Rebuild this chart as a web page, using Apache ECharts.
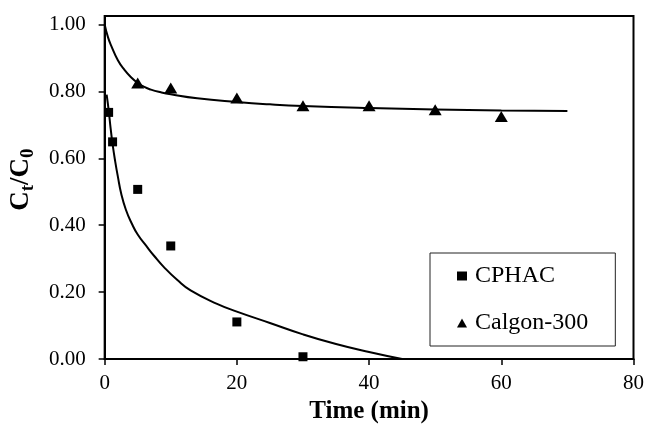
<!DOCTYPE html>
<html>
<head>
<meta charset="utf-8">
<script src="https://cdn.jsdelivr.net/npm/echarts@6/dist/echarts.min.js"></script>
<style>html,body{margin:0;padding:0;background:#fff}#c{width:647px;height:429px}</style>
</head>
<body>
<div id="c"></div>
<script>
// Measured data points
var cphacX = [0.6, 1.2, 5, 10, 20, 30];
var cphacY = [0.737, 0.649, 0.507, 0.338, 0.111, 0.007];
var calgonX = [5, 10, 20, 30, 40, 50, 60];
var calgonY = [0.825, 0.81, 0.78, 0.757, 0.757, 0.745, 0.725];
// Fitted curves
var cphacFitX = [0.3, 0.6, 0.9, 1.2, 1.6, 2, 2.5, 3.2, 4.1, 5, 6.3, 7.5, 9, 11, 13, 17, 20, 25, 30, 35, 40, 45];
var cphacFitY = [0.79, 0.745, 0.69, 0.642, 0.59, 0.545, 0.495, 0.447, 0.405, 0.372, 0.338, 0.308, 0.274, 0.236, 0.205, 0.165, 0.142, 0.108, 0.074, 0.045, 0.021, 0.0];
var calgonFitX = [0, 0.5, 1, 2, 3, 4, 5, 6, 7, 8.5, 10, 14, 20, 25, 30, 40, 50, 60, 70];
var calgonFitY = [1.0, 0.962, 0.936, 0.893, 0.864, 0.842, 0.825, 0.813, 0.805, 0.797, 0.791, 0.779, 0.768, 0.761, 0.756, 0.75, 0.746, 0.743, 0.741];
var yTicks = [0, 0.2, 0.4, 0.6, 0.8, 1.0];
var seriesNames = ['CPHAC', 'Calgon-300'];

function pairs(xs, ys) { return xs.map(function (x, i) { return [x, ys[i]]; }); }

var FONT = 'Liberation Serif';
var chart = echarts.init(document.getElementById('c'), null, { renderer: 'canvas' });
chart.setOption({
  animation: false,
  backgroundColor: '#fff',
  grid: { left: 103, right: 13, top: 16, bottom: 63, show: true, borderColor: '#000', borderWidth: 2, backgroundColor: 'transparent' },
  legend: {
    orient: 'vertical', left: 430, top: 253,
    data: [{ name: seriesNames[0], icon: 'rect' }, { name: seriesNames[1], icon: 'triangle' }],
    itemWidth: 10, itemHeight: 9, itemGap: 23,
    padding: [11, 27, 11, 27],
    borderColor: '#222', borderWidth: 1,
    textStyle: { fontFamily: FONT, fontSize: 24, color: '#000', padding: [0, 0, 0, 3] }
  },
  xAxis: {
    type: 'value', min: 0, max: 80, interval: 20,
    name: 'Time (min)', nameLocation: 'middle', nameGap: 38,
    nameTextStyle: { fontFamily: FONT, fontSize: 25, fontWeight: 'bold', color: '#000' },
    axisLine: { show: true, onZero: false, lineStyle: { color: '#000', width: 2 } },
    axisTick: { show: true, inside: false, length: 6, lineStyle: { color: '#000', width: 1.5 } },
    axisLabel: { fontFamily: FONT, fontSize: 21, color: '#000', margin: 14 },
    splitLine: { show: false }
  },
  yAxis: {
    type: 'value', min: 0, max: 1.025,
    name: '{a|C}{s|t}{a|/C}{s|0}', nameLocation: 'middle', nameGap: 66, nameRotate: 90,
    nameTextStyle: {
      padding: [0, 0, 0, 16],
      rich: {
        a: { fontFamily: FONT, fontSize: 27, fontWeight: 'bold', color: '#000' },
        s: { fontFamily: FONT, fontSize: 19, fontWeight: 'bold', color: '#000', padding: [14, 0, 0, 0] }
      }
    },
    axisLine: { show: true, onZero: false, lineStyle: { color: '#000', width: 2 } },
    axisTick: { show: true, inside: false, length: 6, lineStyle: { color: '#000', width: 1.5 }, customValues: yTicks },
    axisLabel: { fontFamily: FONT, fontSize: 21, color: '#000', margin: 19, customValues: yTicks,
      formatter: function (v) { return v.toFixed(2); } },
    splitLine: { show: false }
  },
  series: [
    { name: seriesNames[0], type: 'scatter', symbol: 'rect', symbolSize: 9, itemStyle: { color: '#000', opacity: 1 }, data: pairs(cphacX, cphacY), z: 3 },
    { name: seriesNames[1], type: 'scatter', symbol: 'triangle', symbolSize: [13, 11], itemStyle: { color: '#000', opacity: 1 }, data: pairs(calgonX, calgonY), z: 3 },
    { name: 'CPHAC fit', type: 'line', showSymbol: false, smooth: 0.5, lineStyle: { color: '#000', width: 2 }, data: pairs(cphacFitX, cphacFitY), z: 2 },
    { name: 'Calgon fit', type: 'line', showSymbol: false, smooth: 0.5, lineStyle: { color: '#000', width: 2 }, data: pairs(calgonFitX, calgonFitY), z: 2 }
  ]
});
</script>
</body>
</html>
